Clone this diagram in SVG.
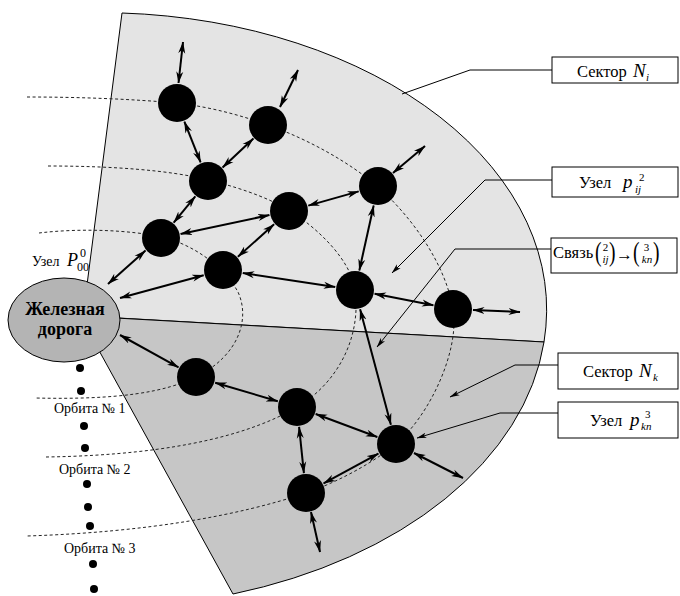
<svg xmlns="http://www.w3.org/2000/svg" width="680" height="596" viewBox="0 0 680 596" font-family="'Liberation Serif', 'Times New Roman', serif">
<style>
.sec{stroke:#000;stroke-width:1}
.orb{fill:none;stroke:#222;stroke-width:1;stroke-dasharray:3 2.5}
.nd{fill:#000}
.arr{fill:none;stroke:#000;stroke-width:2;marker-start:url(#ah);marker-end:url(#ah)}
.ld{fill:none;stroke:#000;stroke-width:1}
.lda{fill:none;stroke:#000;stroke-width:1;marker-end:url(#ah2)}
.box{fill:#fff;stroke:#000;stroke-width:1}
text{font-family:'Liberation Serif','Times New Roman',serif;fill:#000}
.it{font-style:italic}
.dot{fill:#000}
</style>
<defs>
<marker id="ah" viewBox="0 0 12 8" refX="11.5" refY="4" markerWidth="12" markerHeight="8" markerUnits="userSpaceOnUse" orient="auto-start-reverse"><path d="M0,0.5 L12,4 L0,7.5 L3.5,4 Z" fill="#000"/></marker>
<marker id="ah2" viewBox="0 0 10 6" refX="9.5" refY="3" markerWidth="10" markerHeight="6" markerUnits="userSpaceOnUse" orient="auto"><path d="M0,0.3 L10,3 L0,5.7 L2.5,3 Z" fill="#000"/></marker>
</defs>

<g id="sector-Ni"><path class="sec" fill="#e4e4e4" d="M122,13 A447,297 0 0 1 544,342 L83,316 Z"/></g>
<g id="sector-Nk"><path class="sec" fill="#c6c6c6" d="M544,342 A447,297 0 0 1 233,594 L80,316 Z"/></g>

<g id="orbits">
<path class="orb" d="M39,233 C80,228 130,230 162,237 C195,245 225,268 238,292 C250,318 240,355 196,377 C165,392 120,400 35,398"/>
<path class="orb" d="M48,166 C110,166 170,170 208,180 C250,190 275,202 289,210 C320,230 350,260 355,289 C362,340 335,385 297,407 C255,432 180,455 46,457"/>
<path class="orb" d="M27,97 C80,97 130,99 177,103 C210,107 240,115 268,125 C310,140 350,163 377,186 C410,215 445,262 453,309 C460,350 430,415 396,444 C370,465 335,483 306,493 C240,515 150,532 27,536"/>
</g>

<g id="railway">
<ellipse cx="64" cy="320" rx="56" ry="42" fill="#b4b4b4" stroke="#000" stroke-width="1"/>
<text x="65" y="315" text-anchor="middle" style="font-size:18px;font-weight:bold">Железная</text>
<text x="65" y="335" text-anchor="middle" style="font-size:18px;font-weight:bold">дорога</text>
</g>

<g id="connectors">
<line class="arr" x1="178.5" y1="83" x2="183" y2="42"/>
<line class="arr" x1="280" y1="107" x2="298" y2="70"/>
<line class="arr" x1="184.4" y1="121.6" x2="200.6" y2="162.4"/>
<line class="arr" x1="253.4" y1="138.6" x2="222.6" y2="167.4"/>
<line class="arr" x1="195.3" y1="196.4" x2="173.7" y2="222.6"/>
<line class="arr" x1="180.6" y1="233.9" x2="269.4" y2="215.1"/>
<line class="arr" x1="308.3" y1="205.6" x2="358.7" y2="191.4"/>
<line class="arr" x1="393" y1="173" x2="425" y2="146"/>
<line class="arr" x1="373.7" y1="205.5" x2="359.3" y2="270.5"/>
<line class="arr" x1="274.1" y1="224.3" x2="237.9" y2="256.7"/>
<line class="arr" x1="242.8" y1="273" x2="335.2" y2="287"/>
<line class="arr" x1="374.6" y1="293.8" x2="433.4" y2="305.2"/>
<line class="arr" x1="473" y1="310" x2="520" y2="312"/>
<line class="arr" x1="108" y1="284" x2="145.5" y2="250.6"/>
<line class="arr" x1="120" y1="298" x2="203.7" y2="275.2"/>
<line class="arr" x1="120" y1="335" x2="178.5" y2="367.3"/>
<line class="arr" x1="215.2" y1="382.7" x2="277.8" y2="401.3"/>
<line class="arr" x1="315.7" y1="414" x2="377.3" y2="437"/>
<line class="arr" x1="360.1" y1="309.3" x2="390.9" y2="424.7"/>
<line class="arr" x1="299.1" y1="426.9" x2="303.9" y2="473.1"/>
<line class="arr" x1="378.4" y1="453.6" x2="323.6" y2="483.4"/>
<line class="arr" x1="414" y1="453" x2="463" y2="478"/>
<line class="arr" x1="311" y1="512" x2="320" y2="552"/>
</g>

<g id="nodes">
<circle id="n1" class="nd" cx="177" cy="103" r="19"/>
<circle id="n2" class="nd" cx="268" cy="125" r="19"/>
<circle id="n3" class="nd" cx="208" cy="181" r="19"/>
<circle id="n4" class="nd" cx="378" cy="186" r="19"/>
<circle id="n5" class="nd" cx="289" cy="211" r="19"/>
<circle id="n6" class="nd" cx="161" cy="238" r="19"/>
<circle id="n7" class="nd" cx="223" cy="270" r="19"/>
<circle id="n8" class="nd" cx="355" cy="290" r="19"/>
<circle id="n9" class="nd" cx="453" cy="309" r="19"/>
<circle id="n10" class="nd" cx="196" cy="377" r="19"/>
<circle id="n11" class="nd" cx="297" cy="407" r="19"/>
<circle id="n12" class="nd" cx="396" cy="444" r="19"/>
<circle id="n13" class="nd" cx="306" cy="493" r="19"/>
</g>

<g id="leaders">
<polyline class="ld" points="402,94 470,70 552,70"/>
<polyline class="lda" points="552,180 485,180 392,273"/>
<polyline class="lda" points="551,249 455,249 377,347"/>
<polyline class="lda" points="558,365 515,365 450,397"/>
<polyline class="lda" points="558,413 500,413 417,438"/>
</g>

<g id="label-Ni">
<rect class="box" x="552" y="57" width="126" height="26"/>
<text x="577" y="77" style="font-size:16.5px">Сектор</text>
<text class="it" x="633" y="77" style="font-size:19px">N</text>
<text class="it" x="646" y="81" style="font-size:11px">i</text>
</g>
<g id="label-pij">
<rect class="box" x="552" y="167" width="126" height="30"/>
<text x="579" y="188" style="font-size:16.5px">Узел</text>
<text class="it" x="623" y="188" style="font-size:19px">p</text>
<text x="639" y="181" style="font-size:11px">2</text>
<text class="it" x="635" y="193" style="font-size:11px">ij</text>
</g>
<g id="label-link">
<rect class="box" x="551" y="238" width="126" height="35"/>
<text x="553" y="258" style="font-size:16.5px">Связь</text>
<text transform="translate(595,261) scale(0.7,1)" style="font-size:28px">(</text>
<text x="605.5" y="251" text-anchor="middle" style="font-size:11px">2</text>
<text class="it" x="605.5" y="263" text-anchor="middle" style="font-size:11px">ij</text>
<text transform="translate(609,261) scale(0.7,1)" style="font-size:28px">)</text>
<text x="624.5" y="260" text-anchor="middle" style="font-size:17px">→</text>
<text transform="translate(633,261) scale(0.7,1)" style="font-size:28px">(</text>
<text x="646.5" y="251" text-anchor="middle" style="font-size:11px">3</text>
<text class="it" x="647" y="263" text-anchor="middle" style="font-size:11px">kn</text>
<text transform="translate(653,261) scale(0.7,1)" style="font-size:28px">)</text>
</g>
<g id="label-Nk">
<rect class="box" x="558" y="353" width="120" height="36"/>
<text x="583" y="377" style="font-size:16.5px">Сектор</text>
<text class="it" x="639" y="377" style="font-size:19px">N</text>
<text class="it" x="653" y="381" style="font-size:11px">k</text>
</g>
<g id="label-pkn">
<rect class="box" x="558" y="402" width="120" height="36"/>
<text x="590" y="426" style="font-size:16.5px">Узел</text>
<text class="it" x="630" y="426" style="font-size:19px">p</text>
<text x="645" y="418" style="font-size:11px">3</text>
<text class="it" x="641" y="430" style="font-size:11px">kn</text>
</g>

<g id="label-P00">
<text x="32" y="266" style="font-size:14px">Узел</text>
<text class="it" x="67" y="266" style="font-size:18px">P</text>
<text x="77" y="271" style="font-size:12px">00</text>
<text x="80" y="257" style="font-size:12px">0</text>
</g>

<g id="orbit-labels">
<text x="54" y="413" style="font-size:14px">Орбита № 1</text>
<text x="59" y="474" style="font-size:14px">Орбита № 2</text>
<text x="64" y="553" style="font-size:14px">Орбита № 3</text>
</g>

<g id="dots">
<circle class="dot" cx="80" cy="368" r="4"/>
<circle class="dot" cx="81" cy="391" r="4"/>
<circle class="dot" cx="84" cy="426" r="4"/>
<circle class="dot" cx="85" cy="448" r="4"/>
<circle class="dot" cx="87" cy="484" r="4"/>
<circle class="dot" cx="88" cy="507" r="4"/>
<circle class="dot" cx="90" cy="526" r="4"/>
<circle class="dot" cx="93" cy="564" r="4"/>
<circle class="dot" cx="94" cy="589" r="4"/>
</g>
</svg>
